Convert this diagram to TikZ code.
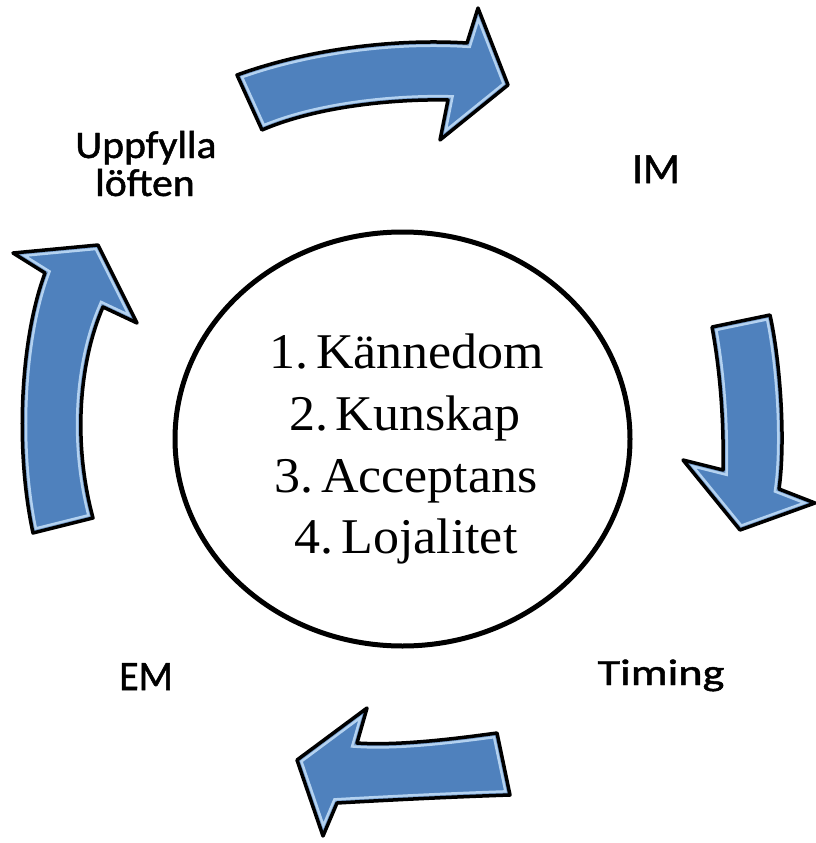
\documentclass[tikz,border=0pt]{standalone}
\usepackage{fontspec}
\setmainfont{Liberation Serif}
\newfontfamily\labelfont[FakeBold=1.2]{Carlito}
\usetikzlibrary{shapes.geometric}
\definecolor{arrowblue}{RGB}{79,129,189}
\definecolor{arrowrim}{RGB}{180,210,240}
\newcommand\glossyarrow[1]{%
  \fill[arrowblue] #1;
  \begin{scope}\clip #1; \draw[arrowrim, line width=10] #1; \draw[arrowblue!80!white, line width=5] #1;\end{scope}
  \draw[black, line width=3.5, line join=round] #1;
}
\begin{document}
\begin{tikzpicture}[x=1pt,y=-1pt,
  itemtext/.style={font=\fontsize{50}{62}\selectfont, anchor=base, inner sep=0, xscale=1.04},
  lbl/.style={font=\labelfont\fontsize{40}{48}\selectfont, anchor=base, inner sep=0}]
\useasboundingbox (0,0) rectangle (816,843);
\fill[white] (0,0) rectangle (816,843);

% top arrow
\glossyarrow{(237,75) .. controls (300,52) and (385,38) .. (467,43) -- (478,8) -- (508,85) -- (440,140) -- (448,100) .. controls (400,99) and (320,105) .. (262,130) -- cycle}
% right arrow
\glossyarrow{(712,327) -- (770,315) .. controls (780,360) and (786,440) .. (779,489) -- (815,503) -- (740,530) -- (683,460) -- (723,470) .. controls (724,420) and (720,370) .. (712,327) -- cycle}
% bottom arrow
\glossyarrow{(297,760) -- (367,708) -- (357,743) .. controls (400,746) and (460,738) .. (497,733) -- (510,795) .. controls (450,797) and (390,800) .. (337,803) -- (323,836) -- cycle}
% left arrow
\glossyarrow{(33,533) .. controls (15,450) and (20,340) .. (45,273) -- (13,253) -- (98,245) -- (137,323) -- (103,307) .. controls (80,360) and (72,440) .. (93,518) -- cycle}

\node[ellipse, draw=black, line width=5, minimum width=455, minimum height=414, inner sep=0, outer sep=0] (ring) at (402.5,439) {};

\node[itemtext] (k1) at (407,368) {1.\hspace{0.15em}Kännedom};
\node[itemtext] (k2) at (405,430) {2.\hspace{0.15em}Kunskap};
\node[itemtext] (k3) at (406,492) {3.\hspace{0.15em}Acceptans};
\node[itemtext] (k4) at (406,553) {4.\hspace{0.15em}Lojalitet};

\node[lbl, font=\labelfont\fontsize{39}{47}\selectfont, xscale=1.07] (uppfylla) at (146,158) {Uppfylla};
\node[lbl, font=\labelfont\fontsize{39}{47}\selectfont, xscale=1.07] (loften) at (145,196) {löften};
\node[lbl, font=\labelfont\fontsize{43}{50}\selectfont] (im) at (656,183) {IM};
\node[lbl, font=\labelfont\fontsize{37}{45}\selectfont, xscale=1.25] (timing) at (661,685) {Timing};
\node[lbl, font=\labelfont\fontsize{42}{50}\selectfont, xscale=0.95] (em) at (146,690) {EM};
\end{tikzpicture}
\end{document}
